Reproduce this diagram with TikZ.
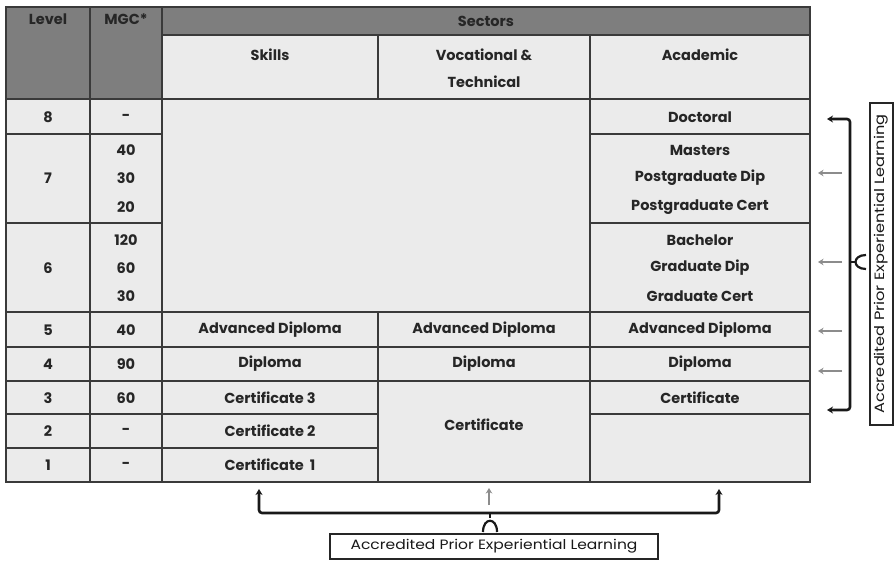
\documentclass[tikz,border=0pt]{standalone}
\usepackage{fontspec}
\setmainfont{Poppins}
\usetikzlibrary{arrows.meta}
\definecolor{hdr}{HTML}{7E7E7E}
\definecolor{cell}{HTML}{EBEBEB}
\definecolor{rulec}{HTML}{3A3A3A}
\begin{document}
\begin{tikzpicture}[x=1pt,y=-1pt,
  txt/.style={font=\fontsize{14.5}{16}\selectfont\bfseries, text=black!85, inner sep=0pt, anchor=center},
  gridline/.style={draw=rulec, line width=1.6pt},
  bracel/.style={draw=black!90, line width=2.6pt, rounded corners=3pt},
  apel/.style={-{Stealth[length=5.5pt,width=6.5pt]}, draw=black!45, line width=1.3pt},
  labelbox/.style={draw=black!85, line width=1.1pt},
  lbltxt/.style={font=\fontsize{13.5}{15}\selectfont, text=black!90, inner sep=0pt},
]
\useasboundingbox (0,0) rectangle (896,561);
\fill[white] (0,0) rectangle (896,561);
% fills
\fill[cell] (6,7) rectangle (810,482);
\fill[hdr] (6,7) rectangle (162,99);
\fill[hdr] (162,7) rectangle (810,35);
% grid
\draw[gridline] (6,7) rectangle (810,482);
\draw[gridline] (90,7) -- (90,482);
\draw[gridline] (162,7) -- (162,482);
\draw[gridline] (378,35) -- (378,99);
\draw[gridline] (378,312) -- (378,482);
\draw[gridline] (590,35) -- (590,482);
\draw[gridline] (162,35) -- (810,35);
\draw[gridline] (6,99) -- (810,99);
\draw[gridline] (6,134) -- (162,134);
\draw[gridline] (590,134) -- (810,134);
\draw[gridline] (6,223) -- (162,223);
\draw[gridline] (590,223) -- (810,223);
\draw[gridline] (6,312) -- (810,312);
\draw[gridline] (6,347) -- (810,347);
\draw[gridline] (6,381) -- (810,381);
\draw[gridline] (6,414) -- (378,414);
\draw[gridline] (590,414) -- (810,414);
\draw[gridline] (6,448) -- (378,448);
% header text
\node[txt] (hLevel) at (48,19) {Level};
\node[txt] (hMGC) at (126,19) {MGC*};
\node[txt] (hSect) at (486,21) {Sectors};
\node[txt] (hSkills) at (270,55) {Skills};
\node[txt] (hVoc1) at (484,55) {Vocational \&};
\node[txt] (hVoc2) at (484,82) {Technical};
\node[txt] (hAcad) at (700,55) {Academic};
% row 8
\node[txt] (l8) at (48,117) {8};
\node[txt] (m8) at (126,117) {-};
\node[txt] (a8) at (700,117) {Doctoral};
% row 7
\node[txt] (l7) at (48,178) {7};
\node[txt] (m7a) at (126,150) {40};
\node[txt] (m7b) at (126,178) {30};
\node[txt] (m7c) at (126,207) {20};
\node[txt] (a7a) at (700,150) {Masters};
\node[txt] (a7b) at (700,178) {Postgraduate Dip};
\node[txt] (a7c) at (700,207) {Postgraduate Cert};
% row 6
\node[txt] (l6) at (48,268) {6};
\node[txt] (m6a) at (126,240) {120};
\node[txt] (m6b) at (126,268) {60};
\node[txt] (m6c) at (126,296) {30};
\node[txt] (a6a) at (700,240) {Bachelor};
\node[txt] (a6b) at (700,268) {Graduate Dip};
\node[txt] (a6c) at (700,296) {Graduate Cert};
% row 5
\node[txt] (l5) at (48,330) {5};
\node[txt] (m5) at (126,330) {40};
\node[txt] (s5) at (270,330) {Advanced Diploma};
\node[txt] (v5) at (484,330) {Advanced Diploma};
\node[txt] (a5) at (700,330) {Advanced Diploma};
% row 4
\node[txt] (l4) at (48,364) {4};
\node[txt] (m4) at (126,364) {90};
\node[txt] (s4) at (270,364) {Diploma};
\node[txt] (v4) at (484,364) {Diploma};
\node[txt] (a4) at (700,364) {Diploma};
% row 3
\node[txt] (l3) at (48,398) {3};
\node[txt] (m3) at (126,398) {60};
\node[txt] (s3) at (270,398) {Certificate 3};
\node[txt] (a3) at (700,398) {Certificate};
\node[txt] (v3) at (484,425) {Certificate};
% row 2
\node[txt] (l2) at (48,431) {2};
\node[txt] (m2) at (126,431) {-};
\node[txt] (s2) at (270,431) {Certificate 2};
% row 1
\node[txt] (l1) at (48,465) {1};
\node[txt] (m1) at (126,465) {-};
\node[txt] (s1) at (270,465) {Certificate\ \ 1};
% right label and brace
\node[labelbox, minimum width=23pt, minimum height=322pt, inner sep=0pt] (rbox) at (881.5,264) {};
\node[lbltxt, rotate=90] (rtext) at (rbox.center) {\scalebox{1.2}[1]{Accredited Prior Experiential Learning}};
\coordinate (rt) at (827,119);
\coordinate (rb) at (827,410);
\draw[bracel, {Stealth[length=6pt,width=7pt]}-{Stealth[length=6pt,width=7pt]}] (rt) -- (850,119) -- (850,410) -- (rb);
\draw[draw=black!90, line width=2.2pt] (850,262) -- (855,262);
\draw[draw=black!90, line width=2.2pt] (866,255) .. controls (852,255) and (852,269) .. (866,269);
% right small arrows
\coordinate (g7s) at (842,173); \coordinate (g7e) at (818,173);
\coordinate (g6s) at (842,262); \coordinate (g6e) at (818,262);
\coordinate (g5s) at (842,331); \coordinate (g5e) at (818,331);
\coordinate (g4s) at (842,371); \coordinate (g4e) at (818,371);
\draw[apel] (g7s) -- (g7e);
\draw[apel] (g6s) -- (g6e);
\draw[apel] (g5s) -- (g5e);
\draw[apel] (g4s) -- (g4e);
% bottom label and brace
\node[labelbox, minimum width=328pt, minimum height=25pt, inner sep=0pt] (bbox) at (494,546.5) {};
\node[lbltxt] (btext) at (bbox.center) {\scalebox{1.15}[1]{Accredited Prior Experiential Learning}};
\coordinate (bl) at (259,489);
\coordinate (br) at (719,489);
\draw[bracel, {Stealth[length=6pt,width=7pt]}-{Stealth[length=6pt,width=7pt]}] (bl) -- (259,513) -- (719,513) -- (br);
\draw[draw=black!90, line width=2.2pt] (490,513) -- (490,518);
\draw[draw=black!90, line width=2.2pt] (483,532) .. controls (483,517) and (497,517) .. (497,532);
\coordinate (gbs) at (489,505); \coordinate (gbe) at (489,488);
\draw[apel] (gbs) -- (gbe);
\end{tikzpicture}
\end{document}
